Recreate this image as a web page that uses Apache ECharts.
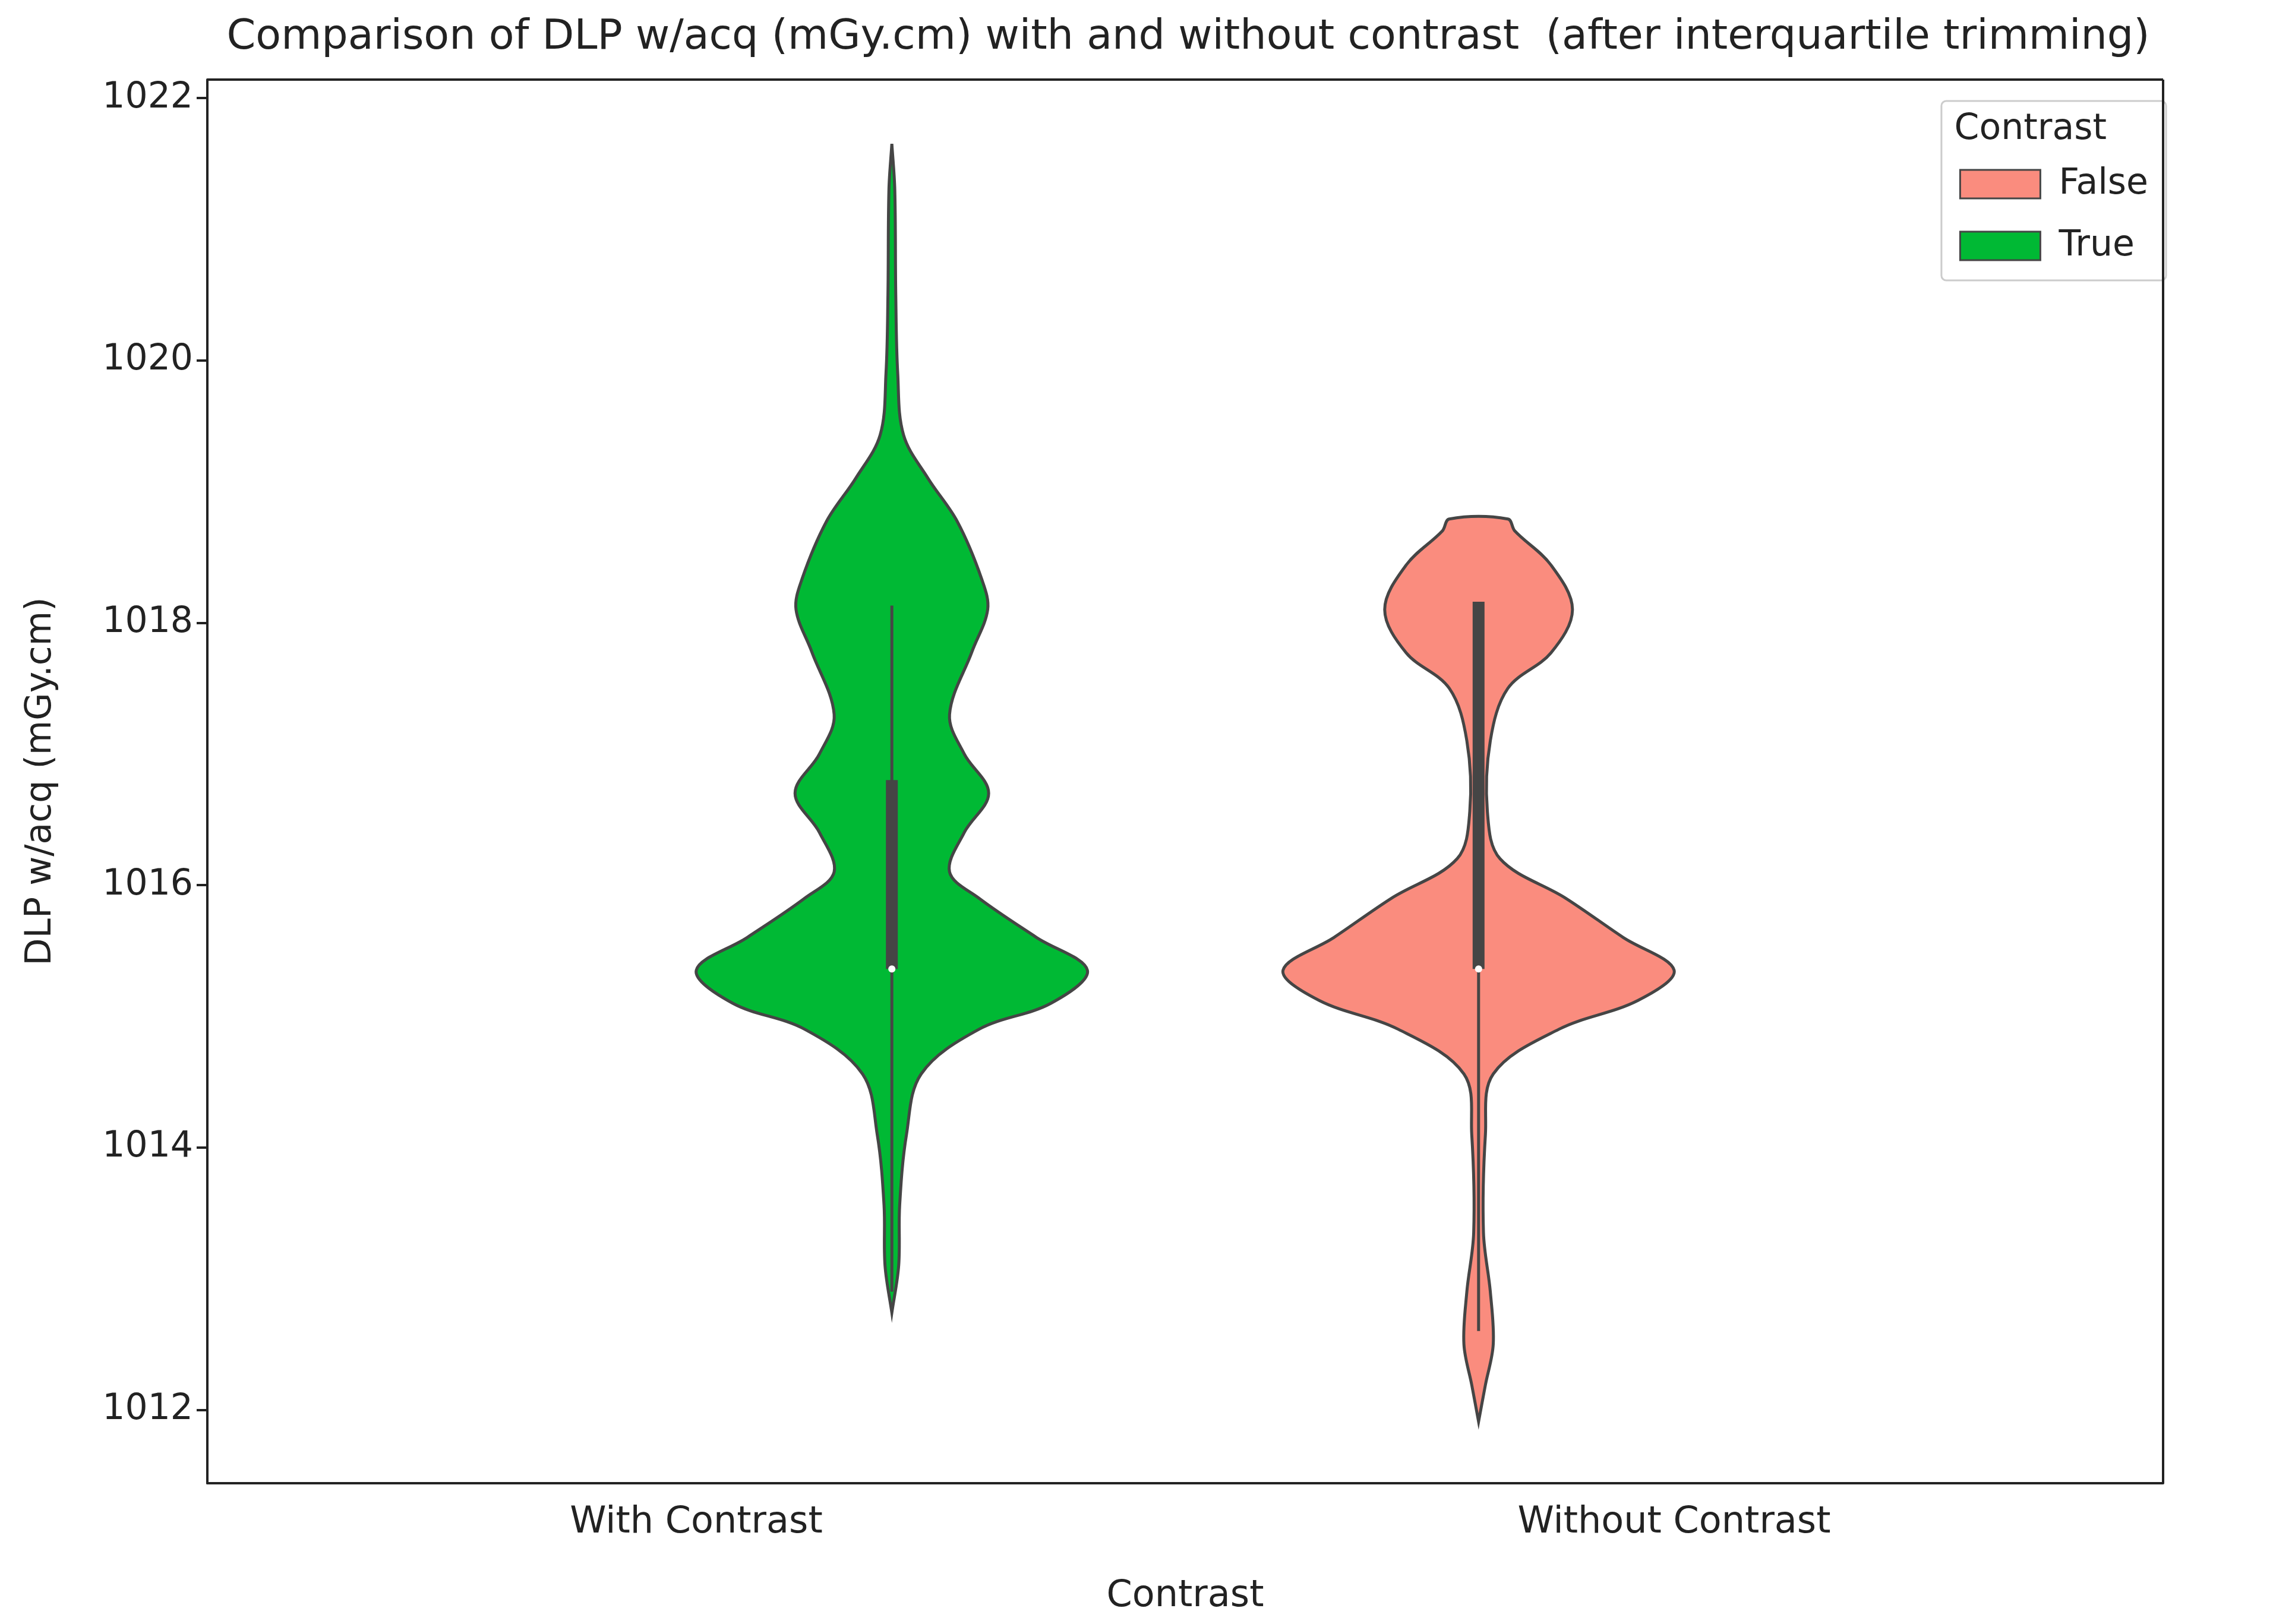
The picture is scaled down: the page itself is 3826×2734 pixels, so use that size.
<!DOCTYPE html>
<html>
<head>
<meta charset="utf-8">
<title>DLP violin</title>
<style>
html,body{margin:0;padding:0;background:#fff;}
#main{width:3826px;height:2734px;}
</style>
</head>
<body>
<div id="main"></div>
<script src="https://cdn.jsdelivr.net/npm/echarts@6/dist/echarts.min.js"></script>
<script>
var categories = ['With Contrast', 'Without Contrast'];
var yTicks = [1012, 1014, 1016, 1018, 1020, 1022];

// density profile: [value, half width in category units]
var trueProfile = [
	[1021.65, 0], [1021.3, 0.003], [1020.5, 0.004], [1019.9, 0.006], [1019.43, 0.012],
	[1019.1, 0.037], [1018.77, 0.067], [1018.33, 0.092], [1018.1, 0.098], [1017.78, 0.082],
	[1017.3, 0.059], [1017.0, 0.074], [1016.7, 0.099], [1016.4, 0.074], [1016.1, 0.059],
	[1015.9, 0.089], [1015.6, 0.148], [1015.35, 0.2], [1015.1, 0.163], [1014.9, 0.089],
	[1014.56, 0.03], [1014.1, 0.015], [1013.56, 0.008], [1013.1, 0.007], [1012.74, 0]
];
var falseProfile = [
	[1018.79, 0.03], [1018.7, 0.037], [1018.44, 0.074], [1018.1, 0.096], [1017.77, 0.074],
	[1017.5, 0.03], [1017.1, 0.012], [1016.56, 0.009], [1016.2, 0.022], [1015.9, 0.089],
	[1015.6, 0.148], [1015.35, 0.2], [1015.12, 0.163], [1014.9, 0.082], [1014.56, 0.015],
	[1014.1, 0.007], [1013.35, 0.005], [1012.9, 0.012], [1012.5, 0.015], [1012.19, 0.007],
	[1011.91, 0]
];
// [whiskerLow, q1, median, q3, whiskerHigh]
var trueBox = [1012.9, 1015.36, 1015.36, 1016.8, 1018.13];
var falseBox = [1012.6, 1015.36, 1015.36, 1018.16, 1018.16];

var colorTrue = '#00b934';
var colorFalse = '#fa8c7e';
var edge = '#454545';

function violinItem(profile, box, catIdx, offset, color) {
	return function (params, api) {
		var cw = api.size([1, 0])[0];
		var cx = api.coord([catIdx, 1016])[0] + offset * cw;
		var left = [], right = [];
		profile.forEach(function (p) {
			var y = api.coord([catIdx, p[0]])[1];
			right.push([cx + p[1] * cw, y]);
			left.unshift([cx - p[1] * cw, y]);
		});
		var pts = right.concat(left);
		var yl = api.coord([catIdx, box[0]])[1];
		var yq1 = api.coord([catIdx, box[1]])[1];
		var ym = api.coord([catIdx, box[2]])[1];
		var yq3 = api.coord([catIdx, box[3]])[1];
		var yh = api.coord([catIdx, box[4]])[1];
		return {
			type: 'group',
			children: [
				{type: 'polygon', shape: {points: pts, smooth: 0.35}, style: {fill: color, stroke: edge, lineWidth: 5}},
				{type: 'line', shape: {x1: cx, y1: yh, x2: cx, y2: yl}, style: {stroke: edge, lineWidth: 5}},
				{type: 'line', shape: {x1: cx, y1: yq3, x2: cx, y2: yq1}, style: {stroke: edge, lineWidth: 20}},
				{type: 'circle', shape: {cx: cx, cy: ym, r: 6}, style: {fill: '#fff'}}
			]
		};
	};
}

var option = {
	animation: false,
	backgroundColor: '#fff',
	textStyle: {fontFamily: 'DejaVu Sans', color: '#222'},
	title: {
		text: 'Comparison of DLP w/acq (mGy.cm) with and without contrast  (after interquartile trimming)',
		left: 1995, top: 24, textAlign: 'center',
		textStyle: {fontSize: 70, fontWeight: 'normal', color: '#222', fontFamily: 'DejaVu Sans'}
	},
	legend: {
		right: 180, top: 170, orient: 'vertical',
		itemWidth: 135, itemHeight: 48, itemGap: 44,
		padding: [110, 30, 28, 30],
		borderColor: '#ccc', borderWidth: 3, borderRadius: 8,
		textStyle: {fontSize: 60, color: '#222', padding: [0, 0, 0, 26]},
		data: [
			{name: 'False', icon: 'rect', itemStyle: {color: colorFalse, borderColor: edge, borderWidth: 3}},
			{name: 'True', icon: 'rect', itemStyle: {color: colorTrue, borderColor: edge, borderWidth: 3}}
		]
	},
	graphic: [{
		type: 'text', right: 280, top: 188, z: 100,
		style: {text: 'Contrast', fontSize: 60, fill: '#222', fontFamily: 'DejaVu Sans'}
	}],
	grid: {left: 349, right: 185, top: 134, bottom: 237},
	xAxis: {
		type: 'category', data: categories, boundaryGap: true,
		name: 'Contrast', nameLocation: 'middle', nameGap: 160,
		nameTextStyle: {fontSize: 62, color: '#222'},
		axisLine: {lineStyle: {color: '#222', width: 4}},
		axisTick: {alignWithLabel: true, length: 18, lineStyle: {width: 4, color: '#222'}},
		axisLabel: {fontSize: 62, color: '#222', margin: 36},
		splitLine: {show: false}
	},
	yAxis: {
		type: 'value', min: 1011.44, max: 1022.14,
		name: 'DLP w/acq (mGy.cm)', nameLocation: 'middle', nameGap: 250,
		nameTextStyle: {fontSize: 60, color: '#222'},
		axisLine: {show: true, lineStyle: {color: '#222', width: 4}},
		axisTick: {show: true, length: 18, lineStyle: {width: 4, color: '#222'}, customValues: yTicks},
		axisLabel: {fontSize: 60, color: '#222', margin: 24, customValues: yTicks,
			formatter: function (v) { return String(v); }},
		splitLine: {show: false}
	},
	series: [
		{name: 'True', type: 'custom', itemStyle: {color: colorTrue},
			renderItem: violinItem(trueProfile, trueBox, 0, 0.2, colorTrue), data: [[0, 1016]]},
		{name: 'False', type: 'custom', itemStyle: {color: colorFalse},
			renderItem: violinItem(falseProfile, falseBox, 1, -0.2, colorFalse), data: [[1, 1016]]},
		{type: 'line', data: [], markLine: {silent: true, symbol: 'none', label: {show: false},
			lineStyle: {color: '#222', width: 4, type: 'solid'},
			data: [{yAxis: 1022.14}, [{xAxis: 1, yAxis: 1011.44, x: 3641}, {x: 3641, y: 134}]]}}
	]
};

var chart = echarts.init(document.getElementById('main'));
chart.setOption(option);
</script>
</body>
</html>
